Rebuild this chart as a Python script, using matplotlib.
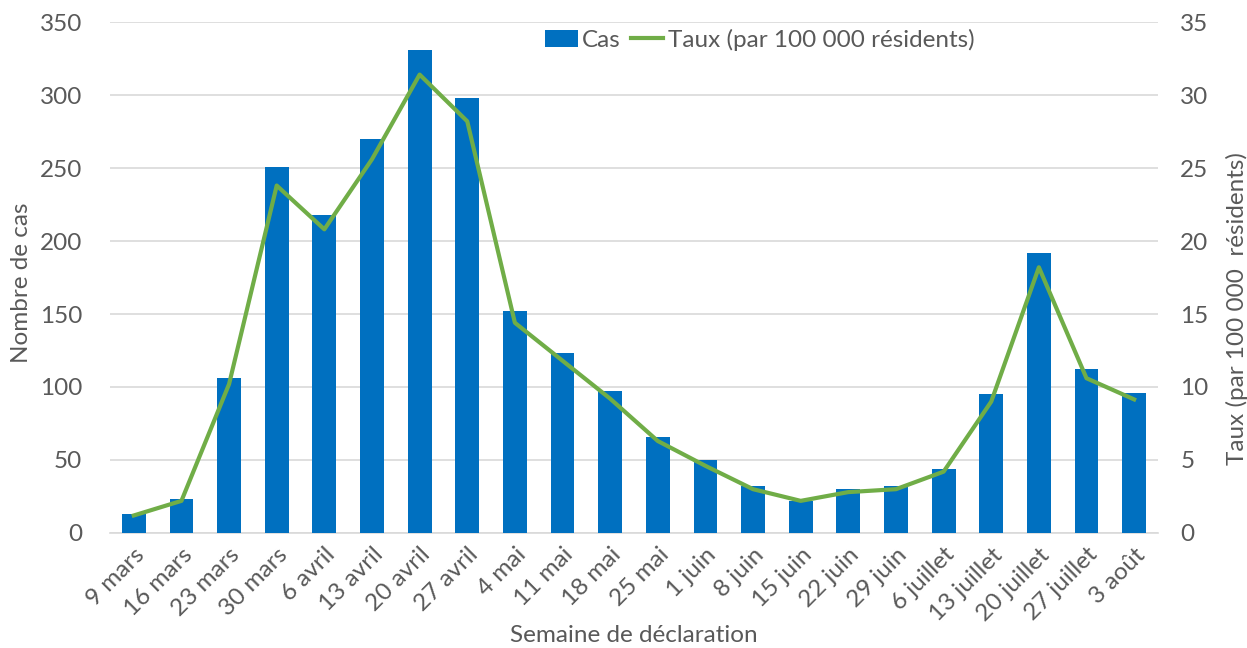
import matplotlib
matplotlib.use("Agg")
import matplotlib.pyplot as plt
import numpy as np

semaines = ["9 mars", "16 mars", "23 mars", "30 mars", "6 avril", "13 avril", "20 avril",
            "27 avril", "4 mai", "11 mai", "18 mai", "25 mai", "1 juin", "8 juin", "15 juin",
            "22 juin", "29 juin", "6 juillet", "13 juillet", "20 juillet", "27 juillet", "3 août"]
cas = [13, 23, 106, 251, 218, 270, 331, 298, 152, 123, 97, 66, 50, 32, 22, 30, 32, 44, 95, 192, 112, 96]
taux = [1.2, 2.2, 10.2, 23.8, 20.8, 25.6, 31.4, 28.2, 14.4, 11.8, 9.2, 6.3, 4.6, 3.0, 2.2, 2.8, 3.0, 4.2, 9.0, 18.2, 10.6, 9.15]

plt.rcParams['font.family'] = ['Lato', 'DejaVu Sans']
grey = '#595959'
fs = 17.5

fig = plt.figure(figsize=(12.47, 6.48), dpi=100)
ax = fig.add_axes([0.0882, 0.1775, 0.8404, 0.7885])
ax2 = ax.twinx()

x = np.arange(len(semaines))
ax.bar(x, cas, width=0.5, color='#0070C0', label='Cas', zorder=3)
ax2.plot(x, taux, color='#70AD47', lw=3, label='Taux (par 100 000 résidents)', zorder=4)

ax.set_xlim(-0.5, len(semaines) - 0.5)
ax.set_ylim(0, 350)
ax2.set_ylim(0, 35)
ax.set_yticks(range(0, 351, 50))
ax2.set_yticks(range(0, 36, 5))
ax.grid(axis='y', color='#d9d9d9', lw=1.2, zorder=0)
ax.set_axisbelow(True)
for a in (ax, ax2):
    for s in a.spines.values():
        s.set_visible(False)
    a.tick_params(length=0, labelsize=fs, labelcolor=grey)
ax.spines['bottom'].set_visible(True)
ax.spines['bottom'].set_color('#d9d9d9')
ax.spines['bottom'].set_linewidth(1.2)
ax.set_xticks(x)
ax.set_xticklabels(semaines, rotation=45, ha='right', rotation_mode='anchor')
ax.tick_params(axis='x', pad=8)
ax.tick_params(axis='y', pad=20)
ax2.tick_params(axis='y', pad=16)

ax.set_xlabel('Semaine de déclaration', fontsize=fs, color=grey, labelpad=0)
ax.set_ylabel('Nombre de cas', fontsize=fs, color=grey, ha='center', va='center')
ax.yaxis.set_label_coords(-0.084, 0.49)
ax2.set_ylabel('Taux (par 100 000  résidents)', fontsize=fs, color=grey, ha='center', va='center')
ax2.yaxis.set_label_coords(1.075, 0.44)

h1, l1 = ax.get_legend_handles_labels()
h2, l2 = ax2.get_legend_handles_labels()
ax2.legend(h1 + h2, l1 + l2, loc='center', bbox_to_anchor=(0.62, 0.965), ncol=2,
           frameon=False, fontsize=fs, labelcolor=grey, handlelength=1.35,
           handletextpad=0.18, columnspacing=0.4)

fig.savefig('out.png', dpi=100)
